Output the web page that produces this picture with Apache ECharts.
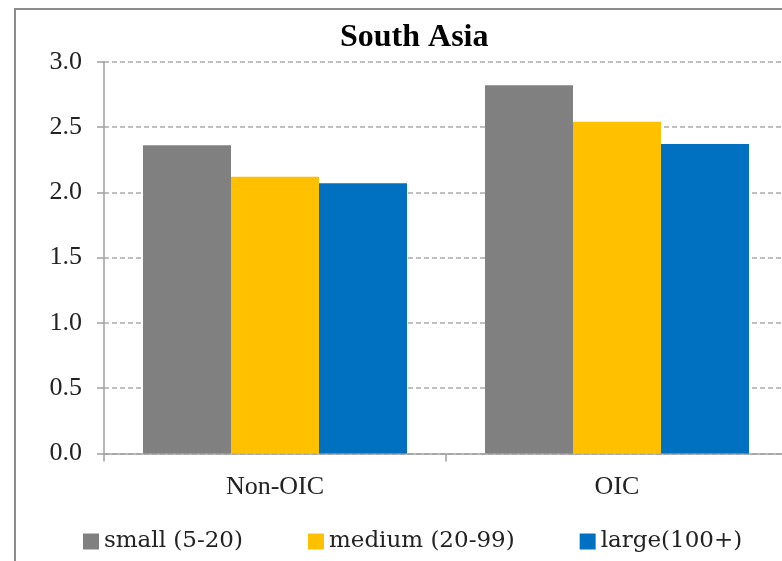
<!DOCTYPE html>
<html>
<head>
<meta charset="utf-8">
<script src="https://cdn.jsdelivr.net/npm/echarts@6/dist/echarts.min.js"></script>
<style>
  html, body { margin: 0; padding: 0; background: #fff; overflow: hidden; }
  #chart { width: 788px; height: 561px; }
</style>
</head>
<body>
<div id="chart"></div>
<script>
const categories = ['Non-OIC', 'OIC']
const seriesNames = ['small (5-20)', 'medium (20-99)', 'large(100+)']
const smallVals = [2.36, 2.82]
const mediumVals = [2.12, 2.54]
const largeVals = [2.07, 2.37]
const colors = ['#808080', '#FFC000', '#0070C0']

const serif = '"Liberation Serif", "Times New Roman", serif'
// chart is a bit wider than the window: the plot runs off the right edge like the source
const chart = echarts.init(document.getElementById('chart'), null, { renderer: 'canvas' })

const mkBar = (name, data, i) => ({
  name, type: 'bar', data,
  barGap: 0, barCategoryGap: '22.8%',
  itemStyle: { color: colors[i] },
  emphasis: { disabled: true }
})

chart.setOption({
  backgroundColor: '#fff',
  animation: false,
  title: {
    text: 'South Asia', left: 335, top: 17,
    textStyle: { fontFamily: serif, fontSize: 32, fontWeight: 'bold', color: '#000' }
  },
  graphic: [{
    type: 'rect', silent: true, z: -1,
    shape: { x: 15, y: 9, width: 900, height: 700 },
    style: { fill: 'none', stroke: '#8c8c8c', lineWidth: 2 }
  }],
  legend: {
    data: seriesNames, left: 78, top: 525,
    icon: 'rect', itemWidth: 16, itemHeight: 16, itemGap: 65,
    textStyle: { fontFamily: '"DejaVu Serif", serif', fontSize: 23, color: '#222' }
  },
  grid: { left: 104, right: 0, top: 61.7, bottom: 107.5, outerBoundsMode: 'none' },
  xAxis: {
    type: 'category', data: categories,
    axisLine: { lineStyle: { color: '#a0a0a0', width: 1.5 } },
    axisTick: { show: true, length: 8, lineStyle: { color: '#a0a0a0', width: 1.5 } },
    axisLabel: { fontFamily: serif, fontSize: 26, color: '#222', margin: 21 }
  },
  yAxis: {
    type: 'value', min: 0, max: 3, interval: 0.5,
    axisLine: { show: true, lineStyle: { color: '#a0a0a0', width: 1.5 } },
    axisTick: { show: true, length: 7, lineStyle: { color: '#a0a0a0', width: 1.5 } },
    axisLabel: { fontFamily: serif, fontSize: 26, color: '#222', margin: 22, formatter: v => v.toFixed(1) },
    splitLine: { lineStyle: { color: '#c0c0c0', width: 2, type: [5, 3] } }
  },
  series: [
    mkBar(seriesNames[0], smallVals, 0),
    mkBar(seriesNames[1], mediumVals, 1),
    mkBar(seriesNames[2], largeVals, 2)
  ]
})
</script>
</body>
</html>
